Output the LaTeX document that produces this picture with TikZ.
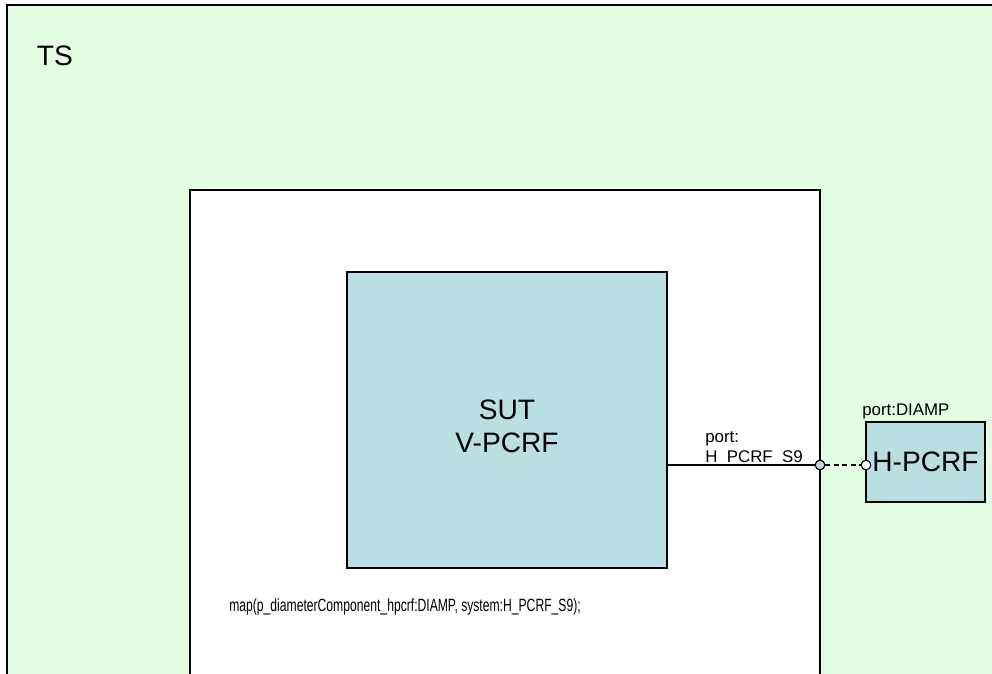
\documentclass[tikz,border=0pt]{standalone}
\usepackage{fontspec}
\setmainfont{Liberation Sans}
\usetikzlibrary{positioning}

\definecolor{tsgreen}{RGB}{227,253,227}
\definecolor{sutblue}{RGB}{185,223,227}
\definecolor{portfill}{RGB}{190,215,225}

\tikzset{
  box/.style={draw, outer sep=0pt, inner sep=0pt},
  bigtxt/.style={font=\fontsize{20}{24}\selectfont},
  smalltxt/.style={font=\fontsize{12}{14}\selectfont},
  portdot/.style={draw, circle, fill=portfill, minimum size=0.24cm, inner sep=0pt, line width=0.7pt}
}

\begin{document}
\begin{tikzpicture}

\useasboundingbox (0,0) rectangle (24.8,-16.825);
\clip (0,0) rectangle (24.8,-16.825);

%%%%%%%%%%%%%%%%%%%%%%%%%%%%%%%%%%%%%%%%%%%%%%%%%%%%%%
% TEST SYSTEM
%%%%%%%%%%%%%%%%%%%%%%%%%%%%%%%%%%%%%%%%%%%%%%%%%%%%%%

\node[
box,
line width=1.4pt,
fill=tsgreen,
minimum width=26cm,
minimum height=18cm,
anchor=north west
] (ts) at (0.175,-0.125)
{};

\node[bigtxt, anchor=base west]
(tslabel) at (0.8,-1.625)
{TS};

%%%%%%%%%%%%%%%%%%%%%%%%%%%%%%%%%%%%%%%%%%%%%%%%%%%%%%
% INNER COMPONENT
%%%%%%%%%%%%%%%%%%%%%%%%%%%%%%%%%%%%%%%%%%%%%%%%%%%%%%

\node[
box,
line width=0.8pt,
fill=white,
minimum width=15.75cm,
minimum height=13cm,
anchor=north west
] (inner) at (4.75,-4.75)
{};

%%%%%%%%%%%%%%%%%%%%%%%%%%%%%%%%%%%%%%%%%%%%%%%%%%%%%%
% SUT
%%%%%%%%%%%%%%%%%%%%%%%%%%%%%%%%%%%%%%%%%%%%%%%%%%%%%%

\node[
box,
line width=0.8pt,
fill=sutblue,
minimum width=8cm,
minimum height=7.4cm,
anchor=north west
] (sut) at (8.675,-6.8)
{};

\node[bigtxt, align=center]
(sutlabel) at ([yshift=-0.16cm]sut.center)
{SUT\\V-PCRF};

\node[smalltxt, anchor=base west, inner sep=0pt]
(map) at (5.725,-15.275)
{\scalebox{0.72}[1.05]{map(p\_diameterComponent\_hpcrf:DIAMP, system:H\_PCRF\_S9);}};

%%%%%%%%%%%%%%%%%%%%%%%%%%%%%%%%%%%%%%%%%%%%%%%%%%%%%%
% PORTS
%%%%%%%%%%%%%%%%%%%%%%%%%%%%%%%%%%%%%%%%%%%%%%%%%%%%%%

\node[portdot] (s9port) at (20.5,-11.625) {};

\node[portdot, fill=white] (diamport) at (21.65,-11.625) {};

\node[smalltxt, align=left, anchor=south west, inner sep=0pt]
(s9label) at (17.625,-11.65)
{port:\\H\_PCRF\_S9};

%%%%%%%%%%%%%%%%%%%%%%%%%%%%%%%%%%%%%%%%%%%%%%%%%%%%%%
% H-PCRF
%%%%%%%%%%%%%%%%%%%%%%%%%%%%%%%%%%%%%%%%%%%%%%%%%%%%%%

\node[
box,
line width=0.8pt,
fill=sutblue,
minimum width=2.975cm,
minimum height=2cm,
anchor=north west,
bigtxt
] (hpcrf) at (21.65,-10.55)
{H-PCRF};

\node[smalltxt, anchor=base west, inner sep=0pt]
(diamlabel) at (21.55,-10.375)
{port:DIAMP};

\draw[line width=0.8pt] (sut.east |- s9port) -- (s9port.west);
\draw[line width=0.8pt, dash pattern=on 3.5pt off 2.5pt] (s9port.east) -- (diamport.west);
\node[portdot] at (s9port) {};
\node[portdot, fill=white] at (diamport) {};

\end{tikzpicture}
\end{document}
